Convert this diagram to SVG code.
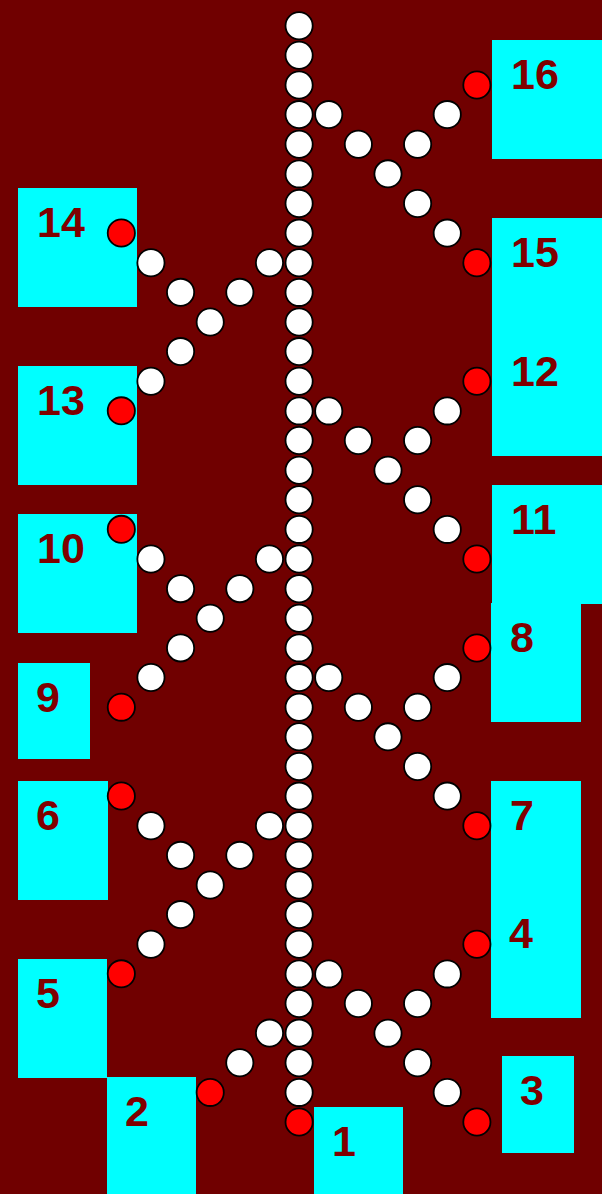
<svg xmlns="http://www.w3.org/2000/svg" xmlns:xlink="http://www.w3.org/1999/xlink" width="602" height="1194" viewBox="0 0 602 1194">
<style>
.bg{fill:#700000}
.box{fill:#00ffff}
.lbl{font-family:"Liberation Sans",Arial,sans-serif;font-weight:bold;font-size:43px;fill:#800000}
.w{fill:#ffffff;stroke:#000000;stroke-width:1.8}
.r{fill:#ff0000;stroke:#000000;stroke-width:1.8}
</style>
<defs>
<g id="armR">
<circle class="w" cx="29.63" cy="0" r="13.6"/>
<circle class="w" cx="59.26" cy="29.63" r="13.6"/>
<circle class="w" cx="88.89" cy="59.26" r="13.6"/>
<circle class="w" cx="118.52" cy="88.89" r="13.6"/>
<circle class="w" cx="148.15" cy="118.52" r="13.6"/>
<circle class="r" cx="177.78" cy="148.15" r="13.6"/>
<circle class="w" cx="118.52" cy="29.63" r="13.6"/>
<circle class="w" cx="148.15" cy="0" r="13.6"/>
<circle class="r" cx="177.78" cy="-29.63" r="13.6"/>
</g>
</defs>
<rect class="bg" x="0" y="0" width="602" height="1194"/>
<g id="node-16"><rect class="box" x="492" y="40" width="110" height="119"/><text class="lbl" x="511" y="89">16</text></g>
<g id="node-14"><rect class="box" x="18" y="188" width="119" height="119"/><text class="lbl" x="37" y="237">14</text></g>
<g id="node-15"><rect class="box" x="492" y="218" width="110" height="119"/><text class="lbl" x="511" y="267">15</text></g>
<g id="node-12"><rect class="box" x="492" y="337" width="110" height="119"/><text class="lbl" x="511" y="386">12</text></g>
<g id="node-13"><rect class="box" x="18" y="366" width="119" height="119"/><text class="lbl" x="37" y="415">13</text></g>
<g id="node-11"><rect class="box" x="492" y="485" width="110" height="119"/><text class="lbl" x="511" y="534">11</text></g>
<g id="node-10"><rect class="box" x="18" y="514" width="119" height="119"/><text class="lbl" x="37" y="563">10</text></g>
<g id="node-8"><rect class="box" x="491" y="603" width="90" height="119"/><text class="lbl" x="510" y="652">8</text></g>
<g id="node-9"><rect class="box" x="18" y="663" width="72" height="96"/><text class="lbl" x="36" y="712">9</text></g>
<g id="node-6"><rect class="box" x="18" y="781" width="90" height="119"/><text class="lbl" x="36" y="830">6</text></g>
<g id="node-7"><rect class="box" x="491" y="781" width="90" height="119"/><text class="lbl" x="510" y="830">7</text></g>
<g id="node-4"><rect class="box" x="491" y="899" width="90" height="119"/><text class="lbl" x="509" y="948">4</text></g>
<g id="node-5"><rect class="box" x="18" y="959" width="89" height="119"/><text class="lbl" x="36" y="1008">5</text></g>
<g id="node-2"><rect class="box" x="107" y="1077" width="89" height="119"/><text class="lbl" x="125" y="1126">2</text></g>
<g id="node-1"><rect class="box" x="314" y="1107" width="89" height="119"/><text class="lbl" x="332" y="1156">1</text></g>
<g id="node-3"><rect class="box" x="502" y="1056" width="72" height="97"/><text class="lbl" x="520" y="1105">3</text></g>
<g id="connectors">
<use xlink:href="#armR" href="#armR" transform="translate(299.1,114.6)"/>
<use xlink:href="#armR" href="#armR" transform="translate(299.1,410.9)"/>
<use xlink:href="#armR" href="#armR" transform="translate(299.1,677.6)"/>
<use xlink:href="#armR" href="#armR" transform="translate(299.1,973.9)"/>
<use xlink:href="#armR" href="#armR" transform="translate(299.1,262.7) scale(-1,1)"/>
<use xlink:href="#armR" href="#armR" transform="translate(299.1,559.0) scale(-1,1)"/>
<use xlink:href="#armR" href="#armR" transform="translate(299.1,825.7) scale(-1,1)"/>
<circle class="w" cx="269.5" cy="1033.1" r="13.6"/>
<circle class="w" cx="239.8" cy="1062.8" r="13.6"/>
<circle class="r" cx="210.2" cy="1092.4" r="13.6"/>
<circle class="w" cx="299.1" cy="25.7" r="13.6"/>
<circle class="w" cx="299.1" cy="55.3" r="13.6"/>
<circle class="w" cx="299.1" cy="85.0" r="13.6"/>
<circle class="w" cx="299.1" cy="114.6" r="13.6"/>
<circle class="w" cx="299.1" cy="144.2" r="13.6"/>
<circle class="w" cx="299.1" cy="173.9" r="13.6"/>
<circle class="w" cx="299.1" cy="203.5" r="13.6"/>
<circle class="w" cx="299.1" cy="233.1" r="13.6"/>
<circle class="w" cx="299.1" cy="262.7" r="13.6"/>
<circle class="w" cx="299.1" cy="292.4" r="13.6"/>
<circle class="w" cx="299.1" cy="322.0" r="13.6"/>
<circle class="w" cx="299.1" cy="351.6" r="13.6"/>
<circle class="w" cx="299.1" cy="381.3" r="13.6"/>
<circle class="w" cx="299.1" cy="410.9" r="13.6"/>
<circle class="w" cx="299.1" cy="440.5" r="13.6"/>
<circle class="w" cx="299.1" cy="470.2" r="13.6"/>
<circle class="w" cx="299.1" cy="499.8" r="13.6"/>
<circle class="w" cx="299.1" cy="529.4" r="13.6"/>
<circle class="w" cx="299.1" cy="559.0" r="13.6"/>
<circle class="w" cx="299.1" cy="588.7" r="13.6"/>
<circle class="w" cx="299.1" cy="618.3" r="13.6"/>
<circle class="w" cx="299.1" cy="647.9" r="13.6"/>
<circle class="w" cx="299.1" cy="677.6" r="13.6"/>
<circle class="w" cx="299.1" cy="707.2" r="13.6"/>
<circle class="w" cx="299.1" cy="736.8" r="13.6"/>
<circle class="w" cx="299.1" cy="766.5" r="13.6"/>
<circle class="w" cx="299.1" cy="796.1" r="13.6"/>
<circle class="w" cx="299.1" cy="825.7" r="13.6"/>
<circle class="w" cx="299.1" cy="855.3" r="13.6"/>
<circle class="w" cx="299.1" cy="885.0" r="13.6"/>
<circle class="w" cx="299.1" cy="914.6" r="13.6"/>
<circle class="w" cx="299.1" cy="944.2" r="13.6"/>
<circle class="w" cx="299.1" cy="973.9" r="13.6"/>
<circle class="w" cx="299.1" cy="1003.5" r="13.6"/>
<circle class="w" cx="299.1" cy="1033.1" r="13.6"/>
<circle class="w" cx="299.1" cy="1062.8" r="13.6"/>
<circle class="w" cx="299.1" cy="1092.4" r="13.6"/>
<circle class="r" cx="299.1" cy="1122.0" r="13.6"/>
</g>
</svg>
